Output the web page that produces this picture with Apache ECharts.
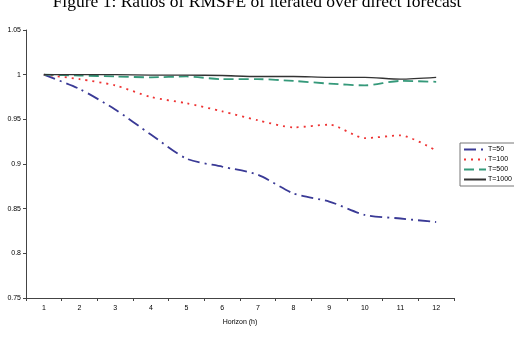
<!DOCTYPE html>
<html>
<head>
<meta charset="utf-8">
<script src="https://cdn.jsdelivr.net/npm/echarts@6/dist/echarts.min.js"></script>
<style>
  html, body { margin: 0; padding: 0; background: #fff; }
  #chart { width: 514px; height: 350px; }
</style>
</head>
<body>
<div id="chart"></div>
<script>
// horizons 1..12
var horizons = ['1', '2', '3', '4', '5', '6', '7', '8', '9', '10', '11', '12']
var seriesNames = ['T=50', 'T=100', 'T=500', 'T=1000']
var t50 = [1.0, 0.984, 0.961, 0.933, 0.906, 0.897, 0.888, 0.867, 0.858, 0.843, 0.839, 0.835]
var t100 = [1.0, 0.995, 0.988, 0.975, 0.968, 0.959, 0.949, 0.941, 0.944, 0.929, 0.932, 0.915]
var t500 = [1.0, 0.999, 0.998, 0.997, 0.998, 0.995, 0.995, 0.993, 0.990, 0.988, 0.993, 0.992]
var t1000 = [1.0, 1.0, 1.0, 0.9995, 0.9995, 0.999, 0.998, 0.998, 0.997, 0.997, 0.995, 0.997]

var chart = echarts.init(document.getElementById('chart'))

var labelStyle = { fontSize: 7, color: '#000', fontFamily: 'Liberation Sans' }

function makeSeries (name, data, color, width, type) {
  return {
    name: name,
    type: 'line',
    data: data,
    symbol: 'none',
    smooth: 0.25,
    lineStyle: { color: color, width: width, type: type },
    itemStyle: { color: color }
  }
}

var option = {
  animation: false,
  title: {
    text: 'Figure 1: Ratios of RMSFE of iterated over direct forecast',
    left: 'center',
    top: -12,
    textStyle: { fontSize: 17.5, fontWeight: 'normal', fontFamily: 'Liberation Serif', color: '#000' }
  },
  legend: {
    data: seriesNames,
    orient: 'vertical',
    left: 460,
    top: 143,
    itemWidth: 22,
    itemHeight: 6,
    itemGap: 3,
    padding: [3, 3, 3, 3],
    borderColor: '#777',
    borderWidth: 1,
    itemStyle: { opacity: 0 },
    textStyle: Object.assign({ padding: [0, 0, 0, -3] }, labelStyle)
  },
  grid: { left: 26, right: 60, top: 30, bottom: 52, containLabel: false },
  xAxis: {
    type: 'category',
    data: horizons,
    boundaryGap: true,
    name: 'Horizon (h)',
    nameLocation: 'middle',
    nameGap: 21,
    nameTextStyle: labelStyle,
    axisLine: { lineStyle: { color: '#444', width: 1 } },
    axisTick: { show: true, length: 3, lineStyle: { color: '#444' } },
    axisLabel: Object.assign({ margin: 7 }, labelStyle),
    splitLine: { show: false }
  },
  yAxis: {
    type: 'value',
    min: 0.75,
    max: 1.05,
    interval: 0.05,
    axisLine: { show: true, lineStyle: { color: '#444', width: 1 } },
    axisTick: { show: true, length: 3, lineStyle: { color: '#444' } },
    axisLabel: Object.assign({ margin: 5 }, labelStyle),
    splitLine: { show: false }
  },
  series: [
    makeSeries('T=50', t50, '#3a3a96', 1.8, [12, 5, 2, 5]),
    makeSeries('T=100', t100, '#ee3333', 1.8, [2, 5]),
    makeSeries('T=500', t500, '#35997a', 1.8, [10, 5]),
    makeSeries('T=1000', t1000, '#333333', 1.4, 'solid')
  ]
}

chart.setOption(option)
</script>
</body>
</html>
